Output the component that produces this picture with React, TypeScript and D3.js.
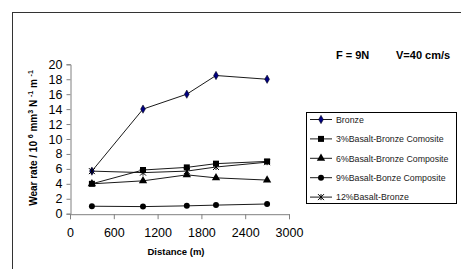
import React, { useEffect, useRef } from 'react';
import * as d3 from 'd3';

const distances = [300, 1000, 1600, 2000, 2700];
const seriesNames = [
  'Bronze',
  '3%Basalt-Bronze Comosite',
  '6%Basalt-Bronze Composite',
  '9%Basalt-Bonze Composite',
  '12%Basalt-Bronze',
];
const bronze = [5.7, 14.0, 16.0, 18.5, 18.0];
const basalt3 = [4.0, 5.85, 6.2, 6.7, 7.0];
const basalt6 = [4.0, 4.4, 5.2, 4.8, 4.5];
const basalt9 = [1.0, 0.95, 1.05, 1.15, 1.3];
const basalt12 = [5.7, 5.5, 5.7, 6.25, 6.9];
const xTicks = [0, 600, 1200, 1800, 2400, 3000];
const yTicks = [0, 2, 4, 6, 8, 10, 12, 14, 16, 18, 20];

const W = 461;
const H = 269;

const App: React.FC = () => {
  const svgRef = useRef<SVGSVGElement | null>(null);

  useEffect(() => {
    const svg = d3.select(svgRef.current);
    svg.selectAll('*').remove();

    const font = 'Arial, "Liberation Sans", sans-serif';
    const x = d3.scaleLinear().domain([0, 3000]).range([70, 289]);
    const y = d3.scaleLinear().domain([0, 20]).range([213.7, 64.3]);

    // outer frame
    svg
      .append('rect')
      .attr('x', 12.5)
      .attr('y', 12.5)
      .attr('width', 470)
      .attr('height', 280)
      .attr('fill', 'none')
      .attr('stroke', '#333')
      .attr('stroke-width', 1);

    // Y axis
    const yAxis = svg
      .append('g')
      .attr('transform', 'translate(70.5,0)')
      .call(d3.axisLeft(y).tickValues(yTicks).tickSize(4).tickPadding(4));
    yAxis.select('.domain').attr('stroke', '#808080');
    yAxis.selectAll('.tick line').attr('stroke', '#808080');
    yAxis
      .selectAll('.tick text')
      .attr('font-family', font)
      .attr('font-size', 12.5)
      .attr('fill', '#000');

    // X axis
    const xAxis = svg
      .append('g')
      .attr('transform', 'translate(0,214.2)')
      .call(
        d3
          .axisBottom(x)
          .tickValues(xTicks)
          .tickFormat(d3.format('d'))
          .tickSize(5)
          .tickPadding(9)
      );
    xAxis.select('.domain').attr('stroke', '#808080');
    xAxis.selectAll('.tick line').attr('stroke', '#808080');
    xAxis
      .selectAll('.tick text')
      .attr('font-family', font)
      .attr('font-size', 12.5)
      .attr('fill', '#000');

    // axis titles
    svg
      .append('text')
      .attr('x', 176)
      .attr('y', 255)
      .attr('text-anchor', 'middle')
      .attr('font-family', font)
      .attr('font-size', 9.5)
      .attr('font-weight', 'bold')
      .text('Distance (m)');

    const yt = svg
      .append('text')
      .attr('transform', 'translate(37,138) rotate(-90)')
      .attr('text-anchor', 'middle')
      .attr('font-family', font)
      .attr('font-size', 10)
      .attr('font-weight', 'bold');
    yt.append('tspan').text('Wear rate / 10 ');
    yt.append('tspan').attr('font-size', 7).attr('dy', -4).text('6');
    yt.append('tspan').attr('dy', 4).text(' mm');
    yt.append('tspan').attr('font-size', 7).attr('dy', -4).text('3');
    yt.append('tspan').attr('dy', 4).text(' N ');
    yt.append('tspan').attr('font-size', 7).attr('dy', -4).text('-1');
    yt.append('tspan').attr('dy', 4).text(' m ');
    yt.append('tspan').attr('font-size', 7).attr('dy', -4).text('-1');

    // header
    svg
      .append('text')
      .attr('x', 336)
      .attr('y', 59)
      .attr('font-family', font)
      .attr('font-size', 11)
      .attr('font-weight', 'bold')
      .text('F = 9N');
    svg
      .append('text')
      .attr('x', 396)
      .attr('y', 59)
      .attr('font-family', font)
      .attr('font-size', 11)
      .attr('font-weight', 'bold')
      .text('V=40 cm/s');

    const allSeries = [bronze, basalt3, basalt6, basalt9, basalt12];
    const symbols = [
      d3.symbolDiamond,
      d3.symbolSquare,
      d3.symbolTriangle,
      d3.symbolCircle,
      null,
    ];
    const sizes = [20, 36, 30, 28, 0];
    const fills = ['#000080', '#000', '#000', '#000', '#000'];

    const line = d3
      .line<number>()
      .x((_, i) => x(distances[i]))
      .y(d => y(d));

    const drawMarker = (
      g: d3.Selection<SVGGElement, unknown, null, undefined>,
      k: number,
      cx: number,
      cy: number
    ) => {
      const sym = symbols[k];
      if (sym) {
        g.append('path')
          .attr('d', d3.symbol(sym, sizes[k])())
          .attr('transform', `translate(${cx},${cy})`)
          .attr('fill', fills[k])
          .attr('stroke', k === 0 ? '#000' : 'none')
          .attr('stroke-width', 0.5);
      } else {
        const s = 3;
        g.append('path')
          .attr(
            'd',
            `M${cx - s},${cy - s}L${cx + s},${cy + s}M${cx - s},${cy + s}L${cx + s},${cy - s}M${cx},${cy - s}L${cx},${cy + s}`
          )
          .attr('stroke', '#000')
          .attr('stroke-width', 1)
          .attr('fill', 'none');
      }
    };

    const plot = svg.append('g');
    allSeries.forEach(vals => {
      plot
        .append('path')
        .datum(vals)
        .attr('fill', 'none')
        .attr('stroke', '#000')
        .attr('stroke-width', 0.9)
        .attr('d', line);
    });
    allSeries.forEach((vals, k) => {
      const g = plot.append('g');
      vals.forEach((v, i) => drawMarker(g, k, x(distances[i]), y(v)));
    });

    // legend
    const lg = svg.append('g');
    lg.append('rect')
      .attr('x', 306.5)
      .attr('y', 112.5)
      .attr('width', 150)
      .attr('height', 91)
      .attr('fill', '#fff')
      .attr('stroke', '#000')
      .attr('stroke-width', 1);
    seriesNames.forEach((name, k) => {
      const ly = 119.5 + k * 19.4;
      lg.append('line')
        .attr('x1', 310)
        .attr('x2', 332)
        .attr('y1', ly)
        .attr('y2', ly)
        .attr('stroke', '#000')
        .attr('stroke-width', 0.9);
      drawMarker(lg, k, 321, ly);
      lg.append('text')
        .attr('x', 336)
        .attr('y', ly + 3.2)
        .attr('font-family', font)
        .attr('font-size', 8.8)
        .attr('fill', '#222')
        .text(name);
    });
  }, []);

  return (
    <svg
      ref={svgRef}
      width={W}
      height={H}
      style={{ position: 'absolute', left: 0, top: 0, background: '#fff' }}
    />
  );
};

export default App;
